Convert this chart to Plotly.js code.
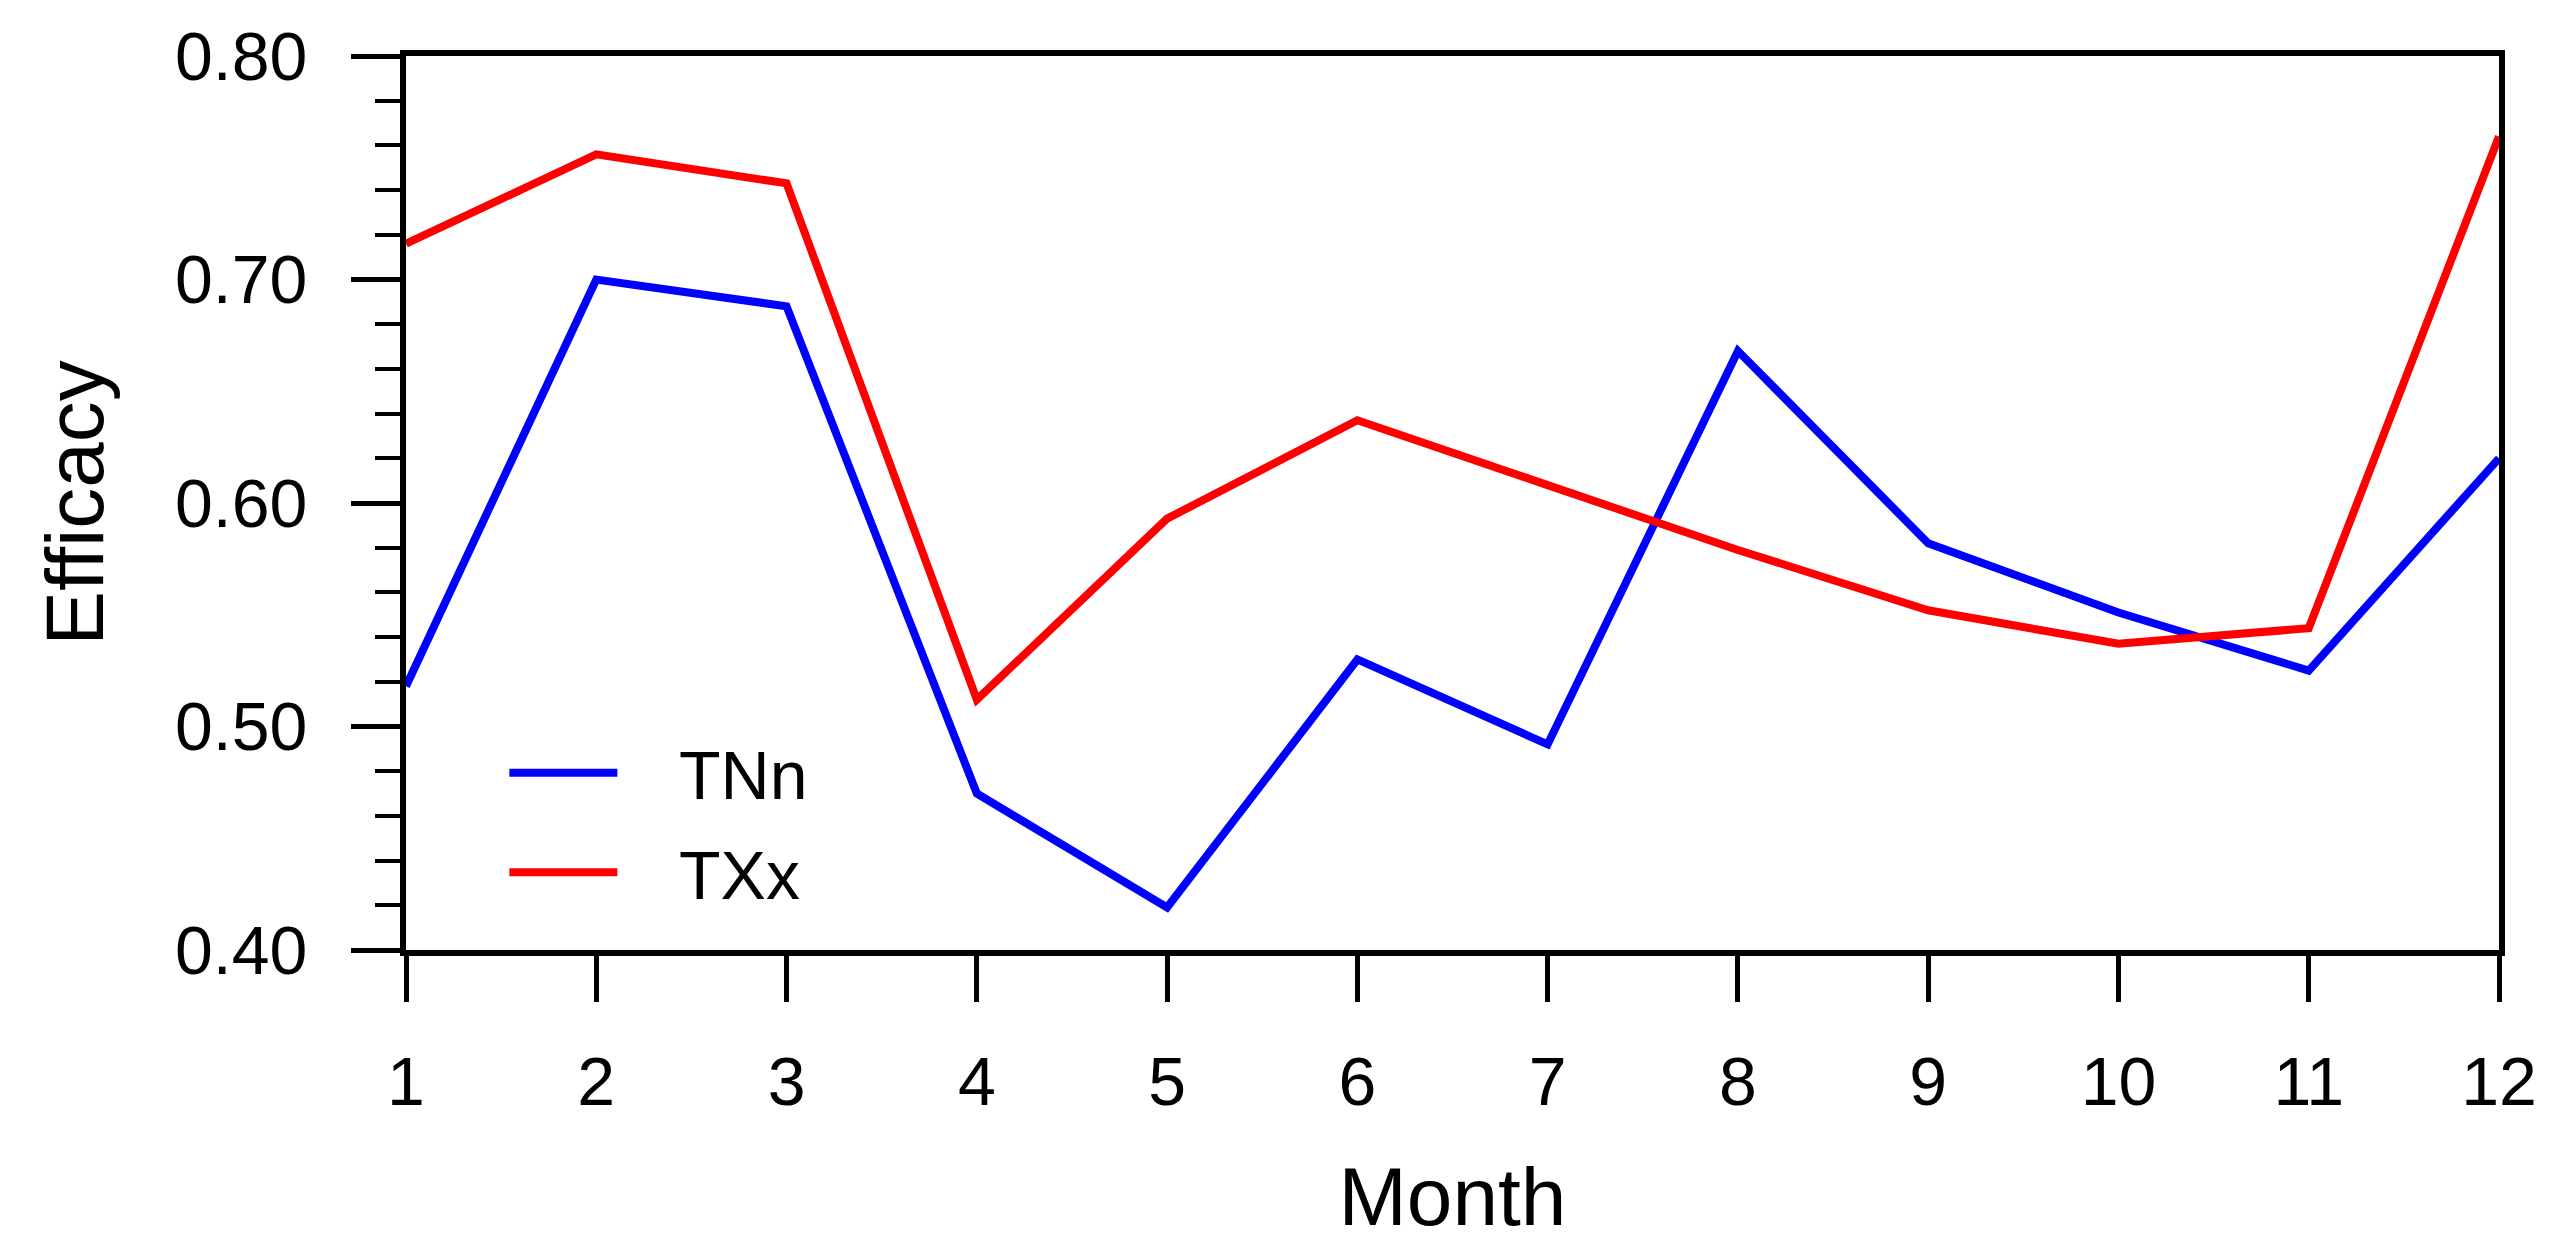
<!DOCTYPE html>
<html>
<head>
<meta charset="utf-8">
<script src="https://cdn.plot.ly/plotly-3.0.1.min.js"></script>
<style>
  html, body { margin: 0; padding: 0; background: #ffffff; }
  #chart { width: 2568px; height: 1259px; }
</style>
</head>
<body>
<div id="chart"></div>
<script>
// ---- Data ----
const months = [1, 2, 3, 4, 5, 6, 7, 8, 9, 10, 11, 12];
const tnnValues = [0.518, 0.700, 0.688, 0.470, 0.419, 0.530, 0.492, 0.668, 0.582, 0.551, 0.525, 0.620];
const txxValues = [0.716, 0.756, 0.743, 0.512, 0.593, 0.637, 0.608, 0.579, 0.552, 0.537, 0.544, 0.764];
const seriesNames = ["TNn", "TXx"];
const yTickVals = [0.4, 0.5, 0.6, 0.7, 0.8];
const yTickText = ["0.40", "0.50", "0.60", "0.70", "0.80"];
const xTickText = ["1", "2", "3", "4", "5", "6", "7", "8", "9", "10", "11", "12"];
const xTitle = "Month";
const yTitle = "Efficacy";

const FONT = "'Liberation Sans', Arial, Helvetica, sans-serif";
const LEGEND_PAD = "\u00A0\u00A0\u00A0";

const traces = [
  {
    x: months, y: tnnValues, name: LEGEND_PAD + seriesNames[0], type: "scatter", mode: "lines",
    line: { color: "#0000FF", width: 8 }, legendgroup: "a"
  },
  {
    x: months, y: txxValues, name: LEGEND_PAD + seriesNames[1], type: "scatter", mode: "lines",
    line: { color: "#FF0000", width: 8 }, legendgroup: "b"
  }
];

const layout = {
  width: 2568,
  height: 1259,
  paper_bgcolor: "#ffffff",
  plot_bgcolor: "#ffffff",
  margin: { l: 406, r: 69, t: 56, b: 309, pad: 0 },
  font: { family: FONT, color: "#000000", size: 68 },
  showlegend: true,
  legend: {
    x: 0.047, y: 0.255, xanchor: "left", yanchor: "top",
    bgcolor: "rgba(0,0,0,0)", borderwidth: 0,
    font: { family: FONT, size: 68, color: "#000000" },
    itemwidth: 108, tracegroupgap: 8
  },
  xaxis: {
    range: [1, 12],
    tickmode: "array", tickvals: months, ticktext: xTickText,
    ticks: "outside", ticklen: 46, tickwidth: 5, tickcolor: "#000000",
    showline: true, linewidth: 6, linecolor: "#000000", mirror: true,
    showgrid: false, zeroline: false,
    tickfont: { family: FONT, size: 68, color: "#000000" },
    ticklabelstandoff: 21,
    title: { text: xTitle, font: { family: FONT, size: 82, color: "#000000" }, standoff: 52 },
    automargin: false
  },
  yaxis: {
    range: [0.4, 0.8],
    tickmode: "array", tickvals: yTickVals, ticktext: yTickText,
    ticks: "outside", ticklen: 49, tickwidth: 5, tickcolor: "#000000",
    minor: { dtick: 0.02, ticks: "outside", ticklen: 25, tickwidth: 4, tickcolor: "#000000", showgrid: false },
    showline: true, linewidth: 6, linecolor: "#000000", mirror: true,
    showgrid: false, zeroline: false,
    tickfont: { family: FONT, size: 68, color: "#000000" },
    ticklabelstandoff: 30,
    title: { text: yTitle, font: { family: FONT, size: 82, color: "#000000" }, standoff: 46 },
    automargin: false
  }
};

Plotly.newPlot("chart", traces, layout, { staticPlot: true, displayModeBar: false });
</script>
</body>
</html>
